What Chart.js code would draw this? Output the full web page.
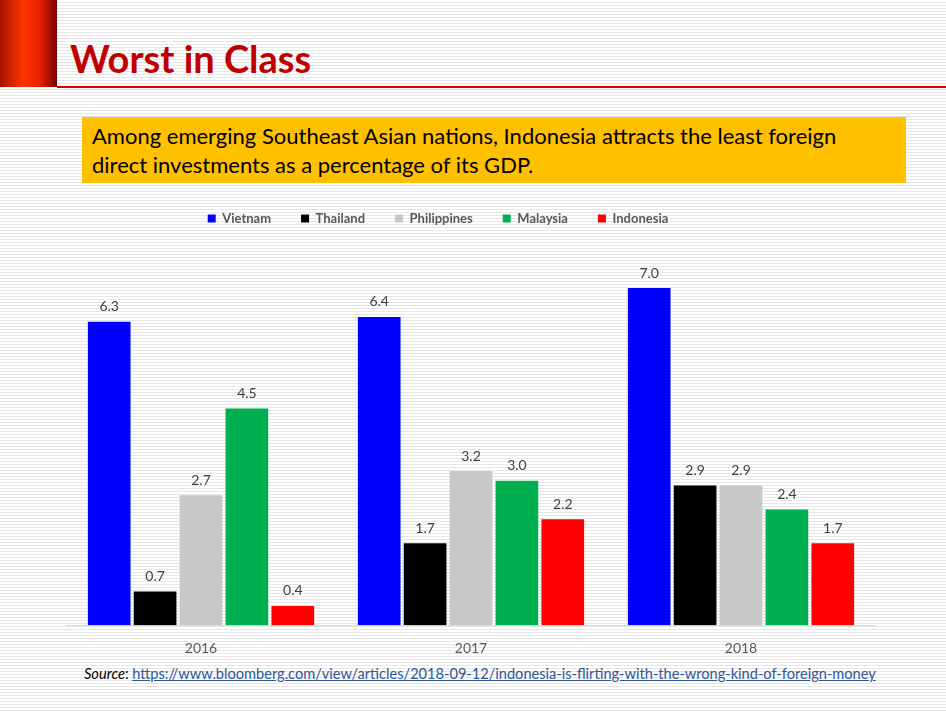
<!DOCTYPE html>
<html>
<head>
<meta charset="utf-8">
<script src="https://cdn.jsdelivr.net/npm/chart.js@4.4.1/dist/chart.umd.min.js"></script>
<style>
  html, body { margin: 0; padding: 0; }
  body {
    width: 946px; height: 713px; position: relative; overflow: hidden;
    font-family: Lato, "Open Sans", sans-serif;
    background: repeating-linear-gradient(to bottom, #ffffff 0px, #ffffff 2px, #e6e6e6 2px, #e6e6e6 3px);
  }
  .redblock {
    position: absolute; left: 0; top: 0; width: 57px; height: 87px;
    background: linear-gradient(to right, #a81200 0%, #ff3300 40%, #e82200 70%, #7a0000 100%);
  }
  .redline { position: absolute; left: 57px; top: 86px; width: 889px; height: 2px; background: #e30000; }
  .title {
    position: absolute; left: 70px; top: 33px; margin: 0;
    font-size: 38px; font-weight: bold; color: #c00000; line-height: 50px;
  }
  .note {
    position: absolute; left: 82px; top: 117px; width: 824px; height: 66px;
    background: #ffc000; color: #000; font-size: 22px; line-height: 29px;
    padding: 4px 0 0 10px; box-sizing: border-box;
  }
  .wrap { position: absolute; left: 0; top: 182px; width: 876px; height: 482px; }
  .source {
    position: absolute; left: 84px; top: 665px; font-size: 14.6px; color: #000;
  }
  .source a { color: #2f5597; text-decoration: underline; }
</style>
</head>
<body>
<div class="redblock"></div>
<div class="redline"></div>
<h1 class="title">Worst in Class</h1>
<div class="note">Among emerging Southeast Asian nations, Indonesia attracts the least foreign<br>direct investments as a percentage of its GDP.</div>
<div class="wrap"><canvas id="chart"></canvas></div>
<div class="source"><i>Source</i>: <a href="#">https://www.bloomberg.com/view/articles/2018-09-12/indonesia-is-flirting-with-the-wrong-kind-of-foreign-money</a></div>

<script>
const years = ["2016", "2017", "2018"];
const vietnam = [6.3, 6.4, 7.0];
const thailand = [0.7, 1.7, 2.9];
const philippines = [2.7, 3.2, 2.9];
const malaysia = [4.5, 3.0, 2.4];
const indonesia = [0.4, 2.2, 1.7];

// value labels above each bar
const barLabels = {
  id: "barLabels",
  afterDatasetsDraw(chart) {
    const ctx = chart.ctx;
    ctx.save();
    ctx.font = "14px Lato, sans-serif";
    ctx.fillStyle = "#404040";
    ctx.textAlign = "center";
    ctx.textBaseline = "bottom";
    chart.data.datasets.forEach((ds, i) => {
      chart.getDatasetMeta(i).data.forEach((bar, j) => {
        ctx.fillText(ds.data[j].toFixed(1), bar.x, bar.y - 8);
      });
    });
    ctx.restore();
  },
};

const ctx = document.getElementById("chart").getContext("2d");
new Chart(ctx, {
  type: "bar",
  data: {
    labels: years,
    datasets: [
      { label: "Vietnam", data: vietnam, backgroundColor: "#0000ff" },
      { label: "Thailand", data: thailand, backgroundColor: "#000000" },
      { label: "Philippines", data: philippines, backgroundColor: "#c8c8c8" },
      { label: "Malaysia", data: malaysia, backgroundColor: "#00b050" },
      { label: "Indonesia", data: indonesia, backgroundColor: "#ff0000" },
    ],
  },
  options: {
    responsive: true,
    maintainAspectRatio: false,
    animation: false,
    datasets: {
      bar: { categoryPercentage: 0.85, barPercentage: 0.93 },
    },
    scales: {
      x: {
        grid: { display: false },
        border: { color: "#d9d9d9", width: 1 },
        ticks: { color: "#595959", font: { family: "Lato", size: 14 }, padding: 7 },
      },
      y: {
        min: 0,
        max: 8.1,
        grid: { display: false },
        border: { display: false },
        ticks: { display: false },
        afterFit(scale) { scale.width = 66; },
      },
    },
    plugins: {
      legend: {
        position: "top",
        labels: {
          boxWidth: 8,
          boxHeight: 8,
          padding: 30,
          color: "#595959",
          font: { family: "Lato", size: 13, weight: "bold" },
        },
      },
      tooltip: { enabled: false },
    },
  },
  plugins: [barLabels],
});
</script>
</body>
</html>
